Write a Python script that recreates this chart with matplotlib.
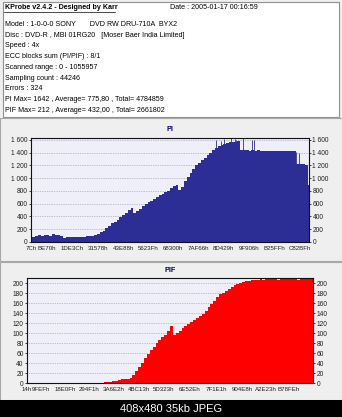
import matplotlib
matplotlib.use('Agg')
import matplotlib.pyplot as plt
from matplotlib.patches import Rectangle
from matplotlib.lines import Line2D
import numpy as np

# Tamaño de la imagen en pixeles
W, H = 342, 417

# Texto de cabecera
title_text = "KProbe v2.4.2 - Designed by Karr"
date_text = "Date : 2005-01-17 00:16:59"
info_lines = [
    "Model : 1-0-0-0 SONY       DVD RW DRU-710A  BYX2",
    "Disc : DVD-R , MBI 01RG20   [Moser Baer India Limited]",
    "Speed : 4x",
    "ECC blocks sum (PI/PIF) : 8/1",
    "Scanned range : 0 - 1055957",
    "Sampling count : 44246",
    "Errors : 324",
    "PI Max= 1642 , Average= 775,80 , Total= 4784859",
    "PIF Max= 212 , Average= 432,00 , Total= 2661802",
]
footer_text = "408x480 35kb JPEG"

# Datos PI
pi_values = [50, 85, 95, 110, 100, 105, 115, 100, 120, 110,
             105, 95, 70, 72, 75, 78, 75, 80, 82, 85,
             88, 95, 100, 110, 125, 150, 180, 215, 250, 290,
             320, 350, 390, 420, 460, 500, 530, 450, 480, 520,
             560, 590, 620, 640, 670, 700, 730, 760, 780, 800,
             840, 870, 900, 820, 860, 950, 1020, 1080, 1150, 1200,
             1240, 1280, 1320, 1360, 1400, 1440, 1470, 1500, 1520, 1540,
             1550, 1560, 1570, 1575, 1580, 1440, 1435, 1440, 1430, 1435,
             1430, 1435, 1430, 1425, 1430, 1430, 1428, 1430, 1425, 1430,
             1425, 1430, 1425, 1420, 1425, 1230, 1230, 1220, 1200, 900]
pi_spike_pos = [0.666, 0.684, 0.696, 0.72, 0.733, 0.739, 0.763, 0.796, 0.803,
                0.945, 0.955, 0.965, 0.99]
pi_spike_val = [1600, 1580, 1620, 1640, 1620, 1600, 1630, 1600, 1600,
                1420, 1410, 1400, 1200]
pi_ticks = [0.0, 0.058, 0.147, 0.241, 0.331, 0.421, 0.511, 0.601, 0.694, 0.784, 0.874, 0.968]
pi_labels = ["7Ch", "BE70h", "1DE3Ch", "31578h", "43E88h", "5623Fh",
             "68300h", "7AF66h", "8D429h", "9F906h", "B25FFh", "C82BFh"]

# Datos PIF
pif_values = [0] * 25 + [1, 1, 2, 2, 3, 4, 5, 7, 8, 9,
                         8, 11, 16, 24, 32, 40, 50, 58, 66, 72,
                         80, 86, 92, 97, 104, 115, 96, 100, 105, 110,
                         114, 118, 122, 126, 130, 134, 138, 145, 152, 158,
                         164, 172, 178, 180, 184, 188, 192, 196, 199, 201,
                         203, 204, 205, 206, 206, 207, 208, 207, 208, 209,
                         208, 208, 207, 208, 209, 208, 208, 209, 208, 207,
                         208, 209, 208, 208, 209]
pif_ticks = [0.0, 0.049, 0.133, 0.217, 0.304, 0.392, 0.479, 0.570, 0.661, 0.752, 0.836, 0.916]
pif_labels = ["14h", "9FEFh", "18E0Fh", "294F1h", "3A6E2h", "4BC13h",
              "5D323h", "6E52Eh", "7F1E1h", "904E8h", "A2E23h", "B78FEh"]

pi_yticks = [0, 200, 400, 600, 800, 1000, 1200, 1400, 1600]
pif_yticks = list(range(0, 201, 20))

FONT = 'Liberation Sans'
PANEL_BG = '#efefef'
PLOT_BG = '#efeff9'


def fx(x):
    return x / W


def fy(y):
    return 1 - y / H


def rect(fig, x0, y0, x1, y1, face, edge='none', lw=0.8):
    fig.patches.append(Rectangle((fx(x0), fy(y1)), fx(x1 - x0), (y1 - y0) / H,
                                 transform=fig.transFigure, facecolor=face,
                                 edgecolor=edge, linewidth=lw, zorder=-5))


def fmt_tick(v):
    # separador de miles con espacio
    return f"{v:,}".replace(",", " ")


def draw_panel(fig, box, values, spikes_pos, spikes_val, ticks, labels, yticks, ylim, color, title, title_y):
    ax = fig.add_axes(box)
    ax.set_zorder(2)
    ax.set_facecolor(PLOT_BG)
    x = np.linspace(0, 1, len(values))
    ax.fill_between(x, values, step='mid', color=color, linewidth=0, zorder=2)
    if spikes_pos:
        ax.vlines(spikes_pos, 0, spikes_val, color=color, linewidth=0.6, zorder=2)
    ax.set_xlim(0, 1)
    ax.set_ylim(*ylim)
    ax.set_yticks(yticks)
    ax.set_yticklabels([fmt_tick(v) for v in yticks], fontsize=4.8, family=FONT, color='#202020')
    ax.set_xticks(ticks)
    ax.set_xticklabels(labels, fontsize=4.4, family=FONT, color='#202020')
    ax.tick_params(axis='x', length=0, pad=3)
    ax.tick_params(axis='y', length=1.5, width=0.5, pad=1, labelright=True, right=True)
    for v in yticks[1:]:
        ax.axhline(v, color='#9090a0', linestyle=(0, (1, 1.5)), linewidth=0.5, zorder=1)
    for s in ax.spines.values():
        s.set_linewidth(0.8)
        s.set_color('#101010')
    fig.text(box[0] + box[2] / 2, fy(title_y), title, ha='center', va='center',
             fontsize=5.2, fontweight='bold', family=FONT, color='#000070')
    return ax


fig = plt.figure(figsize=(W / 100, H / 100), dpi=100)
fig.patch.set_facecolor('#d8d8d8')

# Fondos
rect(fig, 0, 0, W, 400, PANEL_BG)
rect(fig, 3, 2, 339, 117, 'white', edge='#909090')
rect(fig, 0, 118, W, 261, PANEL_BG, edge='#a8a8a8')
rect(fig, 0, 262, W, 400, PANEL_BG, edge='#a8a8a8')
rect(fig, 0, 400, W, H, 'black')

# Cabecera
fig.text(fx(5), fy(7.5), title_text, fontsize=5.1, fontweight='bold', family=FONT,
         va='center', ha='left', color='black')
fig.lines.append(Line2D([fx(4), fx(115)], [fy(12), fy(12)], transform=fig.transFigure,
                        color='black', linewidth=0.5))
fig.text(fx(170), fy(7.5), date_text, fontsize=5.1, family=FONT, va='center', ha='left')
for i, line in enumerate(info_lines):
    fig.text(fx(5), fy(24.5 + i * 10.7), line, fontsize=5.1, family=FONT, va='center', ha='left')

# Grafico PI
draw_panel(fig, [fx(31), fy(242), (309 - 31) / W, (242 - 138) / H],
           pi_values, pi_spike_pos, pi_spike_val, pi_ticks, pi_labels,
           pi_yticks, (0, 1630), '#2d2d96', 'PI', 129)

# Grafico PIF
draw_panel(fig, [fx(27), fy(383), (313 - 27) / W, (383 - 278) / H],
           pif_values, [], [], pif_ticks, pif_labels,
           pif_yticks, (0, 211), '#ff0000', 'PIF', 270)

# Pie de imagen
fig.text(0.5, fy(409), footer_text, fontsize=8, family=FONT, color='white',
         ha='center', va='center')

plt.savefig('out.png', dpi=100, facecolor=fig.get_facecolor())
